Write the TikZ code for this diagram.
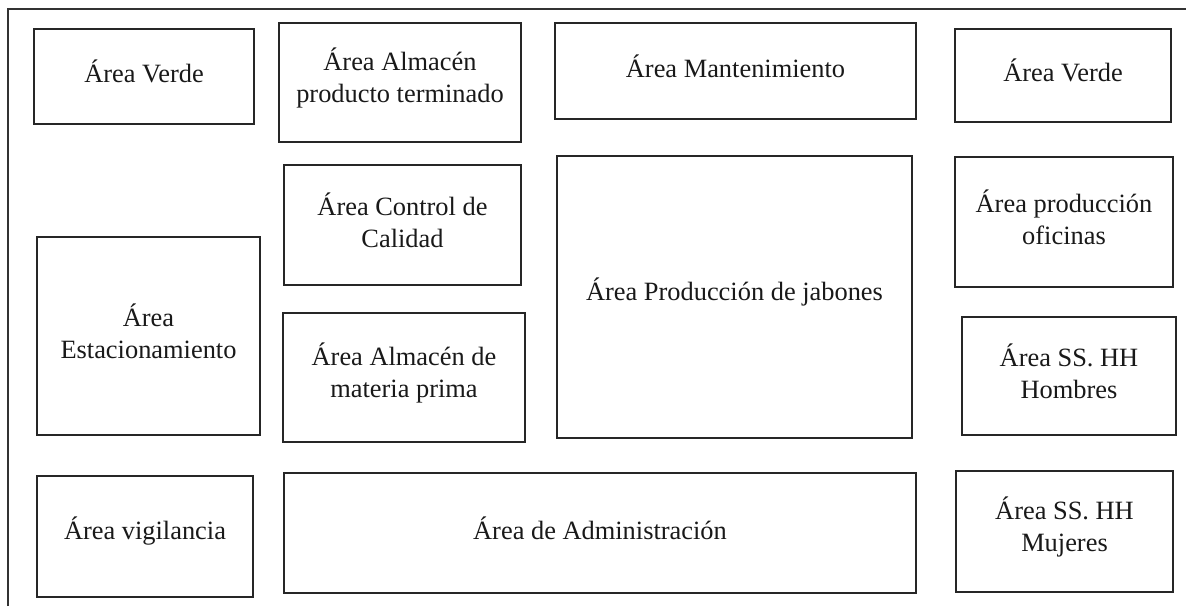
\documentclass[tikz,border=0pt]{standalone}
\usepackage{fontspec}
\setmainfont{Liberation Serif}
\tikzset{
  areabox/.style={draw=black!85, line width=1.1pt, inner sep=0pt, outer sep=0pt, fill=none},
  arealbl/.style={align=center, inner sep=0pt, font=\fontsize{26.4}{32}\selectfont, text=black!90},
  frameline/.style={draw=black!80, line width=1.1pt}
}
\newcommand\areabox[6]{%
  \node[areabox, minimum width={(#4-#2)*1pt}, minimum height={(#5-#3)*1pt}]
    (#1) at ({(#2+#4)/2},{(#3+#5)/2}) {};
  \node[arealbl] (#1-t) at ([yshift=5pt]#1.center) {#6};
}
\begin{document}
\begin{tikzpicture}[x=1pt,y=-1pt]
\useasboundingbox (0,0) rectangle (1186,606);
\fill[white] (0,0) rectangle (1186,606);
\coordinate (fbl) at (8,606);
\coordinate (ftl) at (8,9);
\coordinate (ftr) at (1186,9);
\draw[frameline] (fbl) -- (ftl) -- (ftr);
\areabox{verdeA}{34}{29}{254}{124}{Área Verde}
\areabox{almpt}{279}{23}{521}{142}{Área Almacén\\producto terminado}
\areabox{mant}{555}{23}{916}{119}{Área Mantenimiento}
\areabox{verdeB}{955}{29}{1171}{122}{Área Verde}
\areabox{control}{284}{165}{521}{285}{Área Control de\\Calidad}
\areabox{prodjab}{557}{156}{912}{438}{Área Producción de jabones}
\areabox{prodofi}{955}{157}{1173}{287}{Área producción\\oficinas}
\areabox{estac}{37}{237}{260}{435}{Área\\Estacionamiento}
\areabox{almmp}{283}{313}{525}{442}{Área Almacén de\\materia prima}
\areabox{hombres}{962}{317}{1176}{435}{Área SS. HH\\Hombres}
\areabox{vigil}{37}{476}{253}{597}{Área vigilancia}
\areabox{admin}{284}{473}{916}{593}{Área de Administración}
\areabox{mujeres}{956}{471}{1173}{592}{Área SS. HH\\Mujeres}
\end{tikzpicture}
\end{document}
